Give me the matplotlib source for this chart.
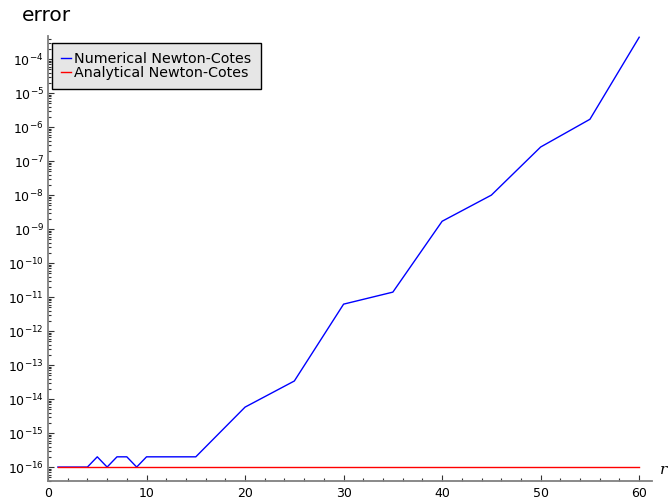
import matplotlib
matplotlib.use("Agg")
import matplotlib.pyplot as plt
from matplotlib.ticker import LogLocator, NullFormatter, MultipleLocator

# Order of the quadrature rule
r_values = [1, 2, 3, 4, 5, 6, 7, 8, 9, 10, 15, 20, 25, 30, 35, 40, 45, 50, 55, 60]

# Absolute error of each approach
numerical_error = [1e-16, 1e-16, 1e-16, 1e-16, 2e-16, 1e-16, 2e-16, 2e-16, 1e-16, 2e-16,
                   2e-16, 5.8e-15, 3.4e-14, 6.2e-12, 1.4e-11, 1.7e-9, 1.0e-8, 2.6e-7,
                   1.7e-6, 4.4e-4]
analytical_error = [1e-16] * len(r_values)

series_labels = ["Numerical Newton-Cotes", "Analytical Newton-Cotes"]
y_tick_exponents = list(range(-16, -3))
x_ticks = [0, 10, 20, 30, 40, 50, 60]

W, H = 668, 500
fig = plt.figure(figsize=(W / 100, H / 100), dpi=100)
ax = fig.add_axes([48 / W, 1 - 481 / H, (652 - 48) / W, (481 - 36) / H])

ax.plot(r_values, numerical_error, color="#0000ff", lw=1.0, label=series_labels[0])
ax.plot(r_values, analytical_error, color="#ff0000", lw=1.0, label=series_labels[1])

ax.set_yscale("log")
ax.set_xlim(0, 61.3)
ax.set_ylim(10 ** -16.41, 10 ** -3.32)

ax.set_yticks([10.0 ** k for k in y_tick_exponents])
ax.yaxis.set_minor_locator(LogLocator(base=10, subs=range(2, 10), numticks=200))
ax.yaxis.set_minor_formatter(NullFormatter())
ax.set_xticks(x_ticks)
ax.xaxis.set_minor_locator(MultipleLocator(2))

for side in ("top", "right"):
    ax.spines[side].set_visible(False)
for side in ("left", "bottom"):
    ax.spines[side].set_color("#808080")
    ax.spines[side].set_linewidth(1.3)

ax.tick_params(which="both", direction="in", color="#333333", labelsize=9, width=0.8)
ax.tick_params(which="major", length=4)
ax.tick_params(which="minor", length=2)
ax.tick_params(axis="x", pad=4)
ax.tick_params(axis="y", pad=3)

leg = ax.legend(loc="upper left", bbox_to_anchor=(4 / 604, 1 - 7 / 445),
                fontsize=10.3, frameon=True, fancybox=False, handlelength=0.7,
                handletextpad=0.25, borderpad=0.62, labelspacing=0.0,
                borderaxespad=0)
frame = leg.get_frame()
frame.set_facecolor("#e6e6e6")
frame.set_edgecolor("black")
frame.set_linewidth(1.0)
frame.set_alpha(1.0)

fig.text(22 / W, 1 - 6 / H, "error", fontsize=14.5, ha="left", va="top")
fig.text(660 / W, 1 - 470 / H, "r", fontsize=11, style="italic",
         family="DejaVu Serif", ha="left", va="center")

fig.savefig("out.png", dpi=100)
